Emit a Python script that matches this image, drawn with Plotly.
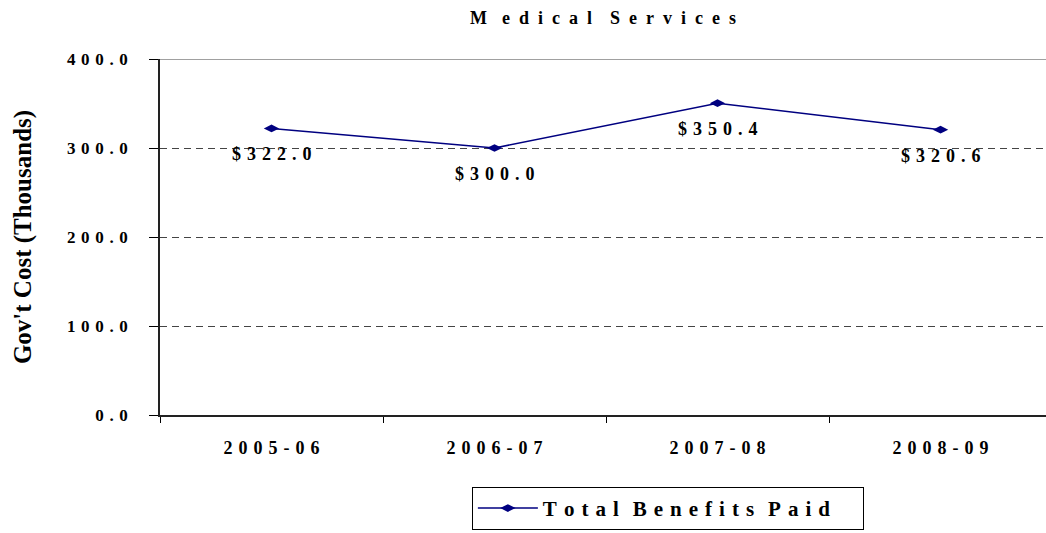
import plotly.graph_objects as go

years = ["2005-06", "2006-07", "2007-08", "2008-09"]
benefits = [322.0, 300.0, 350.4, 320.6]
y_ticks = [0, 100, 200, 300, 400]

FONT = "Liberation Serif"
GAP = "\u2004"     # three-per-em space, mimics the wide letter spacing
WIDE = "\u2002"    # en space, used for the title


def spaced(s, sep=GAP):
    return sep.join(s)


def spaced_words(words, sep=GAP):
    return (sep * 2).join(spaced(w, sep) for w in words.split(" "))


fig = go.Figure()
fig.add_trace(go.Scatter(
    x=years,
    y=benefits,
    mode="lines+markers",
    name=spaced_words("Total Benefits Paid"),
    line=dict(color="#000080", width=1.5),
    marker=dict(symbol="diamond-wide", size=11, color="#000080"),
    cliponaxis=False,
))

# value labels under each point
for yr, v in zip(years, benefits):
    fig.add_annotation(
        x=yr, y=v, text=spaced(f"${v:.1f}"),
        showarrow=False, yanchor="middle", yshift=-26,
        font=dict(family=FONT, size=18, color="black", weight="bold"),
    )

# solid grey frame line along the top of the plot
fig.add_shape(type="line", xref="paper", x0=0, x1=1, yref="y",
              y0=max(y_ticks), y1=max(y_ticks),
              line=dict(color="#808080", width=1.5))

fig.update_layout(
    width=1046, height=533,
    margin=dict(l=160, r=0, t=59, b=118),
    paper_bgcolor="white",
    plot_bgcolor="white",
    font=dict(family=FONT, color="black"),
    title=dict(
        text="M" + WIDE + GAP + spaced_words("edical Services", WIDE),
        xref="paper", x=0.5, xanchor="center", y=0.966, yanchor="middle",
        font=dict(family=FONT, size=18, color="black", weight="bold"),
    ),
    xaxis=dict(
        type="category",
        range=[-0.5, 3.473],
        tickvals=years,
        ticktext=[spaced(y) for y in years],
        tickson="boundaries",
        ticks="outside", ticklen=6, tickcolor="black",
        ticklabelstandoff=15,
        showline=True, linecolor="#222222", linewidth=2,
        showgrid=False,
        tickfont=dict(family=FONT, size=18, color="black", weight="bold"),
    ),
    yaxis=dict(
        range=[0, 400],
        tickvals=y_ticks,
        ticktext=[spaced(f"{v:.1f}") for v in y_ticks],
        ticks="outside", ticklen=9, tickcolor="black",
        ticklabelstandoff=18,
        showline=True, linecolor="#222222", linewidth=1.5,
        showgrid=True, gridcolor="#444444", griddash="7px,5px", gridwidth=1,
        zeroline=False,
        tickfont=dict(family=FONT, size=17, color="black", weight="bold"),
        title=dict(text="Gov't Cost (Thousands)", standoff=28,
                   font=dict(family=FONT, size=25, color="black", weight="bold")),
    ),
    showlegend=True,
    legend=dict(
        orientation="h",
        x=0.352, xanchor="left", y=-0.202, yanchor="top",
        bordercolor="black", borderwidth=1,
        itemwidth=60, entrywidth=315,
        font=dict(family=FONT, size=21, color="black", weight="bold"),
    ),
)

fig.write_html("out.html", config={"displayModeBar": False},
               post_script="document.body.style.margin='0';")
